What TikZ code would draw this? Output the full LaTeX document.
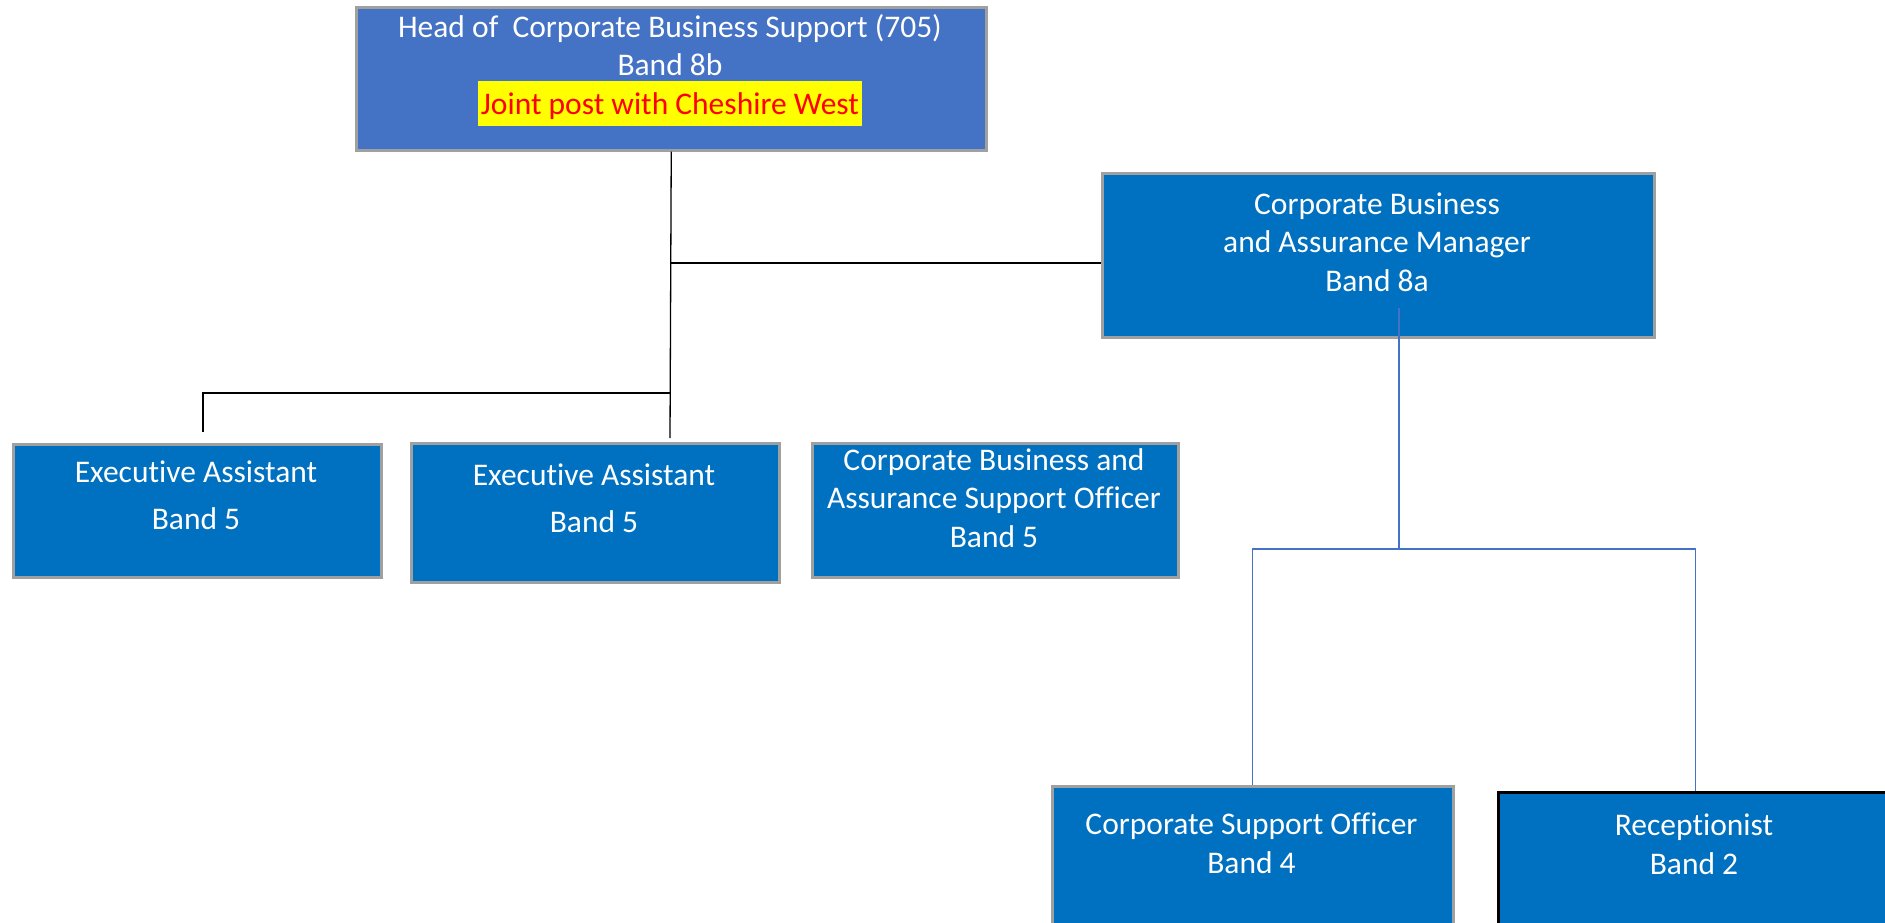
\documentclass[tikz,border=0pt]{standalone}
\usepackage{fontspec}
\setmainfont{Carlito}[Ligatures=NoCommon]
\definecolor{headblue}{HTML}{4472C4}
\definecolor{boxblue}{HTML}{0070C0}
\definecolor{rimgray}{HTML}{A0A0A0}
\definecolor{markyellow}{HTML}{FFFF00}

\begin{document}
\begin{tikzpicture}[x=1pt, y=-1pt,
                    box_style/.style={draw=rimgray, line width=2.5pt, fill=boxblue, anchor=north west, inner sep=0pt},
                    txt_style/.style={text=white, align=center, anchor=base, inner sep=0pt, font=\fontsize{31.5}{38.5}\selectfont},
                    edge_style/.style={draw=black, line width=1.3pt},
                    blue_edge/.style={draw=headblue, line width=1.3pt}
   ]
   \clip (0,0) rectangle (1885,922);
   \node[box_style, fill=headblue, minimum width=630pt, minimum height=143pt] (head) at (355,6) {};
   \node[box_style, minimum width=552pt, minimum height=164pt] (mgr) at (1101,172) {};
   \node[box_style, minimum width=368pt, minimum height=133pt] (exec1) at (12,443) {};
   \node[box_style, minimum width=368pt, minimum height=139pt] (exec2) at (410,442) {};
   \node[box_style, minimum width=366pt, minimum height=134pt] (cbaso) at (811,442) {};
   \node[box_style, minimum width=401pt, minimum height=170pt] (cso) at (1051,785) {};
   \node[box_style, draw=black, line width=3pt, minimum width=394pt, minimum height=170pt] (recep) at (1497,791) {};
   % Titles (base = last line)
   \node[txt_style] (headt) at (670,114) {Head of~~Corporate Business Support (705)\\Band 8b\\
      \colorbox{markyellow}{\color{red}\rule[-9pt]{0pt}{39pt}Joint post with Cheshire West}};
   \node[txt_style] (mgrt) at (1377,291) {Corporate Business\\and Assurance Manager\\Band 8a};
   \node[txt_style, font=\fontsize{31.5}{47}\selectfont] (exec1t) at (196,529) {Executive Assistant\\Band 5};
   \node[txt_style, font=\fontsize{31.5}{47}\selectfont] (exec2t) at (594,532) {Executive Assistant\\Band 5};
   \node[txt_style] (cbasot) at (994,547) {Corporate Business and\\Assurance Support Officer\\Band 5};
   \node[txt_style] (csot) at (1251.5,873) {Corporate Support Officer\\Band 4};
   \node[txt_style] (recept) at (1694,874) {Receptionist\\Band 2};
   % Lines
   \coordinate (j1) at (670,263);
   \coordinate (j2) at (670,393);
   \coordinate (e1top) at (203,432);
   \coordinate (e2top) at (670,438);
   \coordinate (m1) at (1399,308);
   \coordinate (j3) at (1399,549);
   \draw[edge_style] (head.south) -- (e2top);
   \draw[edge_style] (j1) -- (j1 -| mgr.west);
   \draw[edge_style] (j2) -| (e1top);
   \draw[blue_edge] (m1) -- (j3);
   \draw[blue_edge] (cso.north) |- (j3) -| (recep.north);
\end{tikzpicture}
\end{document}
